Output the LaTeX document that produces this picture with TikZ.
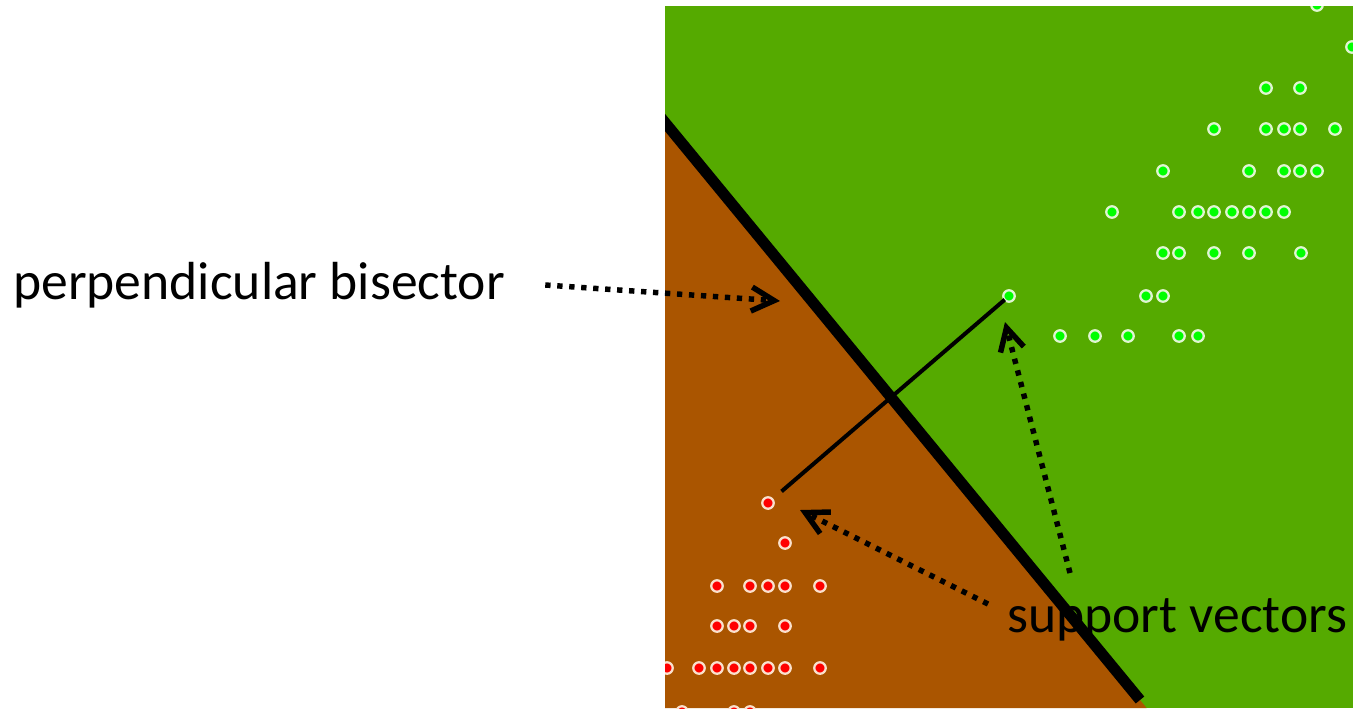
\documentclass[tikz,border=0pt]{standalone}
\usepackage{fontspec}
\setmainfont{Carlito}
\usetikzlibrary{arrows.meta}
\definecolor{regiongreen}{RGB}{85,170,0}
\definecolor{regionbrown}{RGB}{170,85,0}
\definecolor{dotgreen}{RGB}{0,255,0}
\definecolor{dotred}{RGB}{255,0,0}
\definecolor{ringgreen}{RGB}{225,245,210}
\definecolor{ringred}{RGB}{250,225,205}
\tikzset{
  gdot/.style={circle,fill=dotgreen,draw=ringgreen,line width=1.7pt,minimum size=8.6pt,inner sep=0pt},
  rdot/.style={circle,fill=dotred,draw=ringred,line width=1.7pt,minimum size=8.6pt,inner sep=0pt},
  pointer/.style={line width=4.1pt,dash pattern=on 4pt off 5pt,-{Straight Barb[length=17pt,width=18pt]}},
  labeltext/.style={font=\fontsize{40.2}{48}\selectfont,inner sep=0pt,anchor=base west}
}

\begin{document}
\begin{tikzpicture}[x=0.75pt,y=-0.75pt]
\useasboundingbox (0,0) rectangle (1353,708);

\begin{scope}
\clip (665,6) rectangle (1353,708);
\fill[regiongreen] (665,6) rectangle (1353,708);
\fill[regionbrown] (665,122.6) -- (1146.6,708) -- (665,708) -- cycle;
\draw[line width=8.25pt] (650,104.3) -- (1140,700);

\foreach \x/\y in {1317/5,1352/47,1266/88,1300/88,
  1214/129,1266/129,1284/129,1300/129,1335/129,
  1163/171,1249/171,1284/171,1300/171,1317/171,
  1112/212,1179/212,1198/212,1214/212,1232/212,1249/212,1266/212,1284/212,
  1163/253,1179/253,1214/253,1249/253,1301/253,
  1146/296,1163/296,
  1060/336,1095/336,1128/336,1179/336,1198/336}
  \node[gdot] at (\x,\y) {};
\node[gdot] (sv-green) at (1009,296) {};

\foreach \x/\y in {785/543,
  717/586,750/586,768/586,785/586,820/586,
  717/626,734/626,750/626,785/626,
  667/668,699/668,717/668,734/668,750/668,768/668,785/668,820/668,
  682/712,734/712,750/712}
  \node[rdot] at (\x,\y) {};
\node[rdot] (sv-red) at (768,503) {};

\draw[line width=3pt,shorten <=13.4pt,shorten >=4.2pt] (sv-red.center) -- (sv-green.center);
\end{scope}

\node[labeltext] (bisector-label) at (13,299) {perpendicular bisector};
\node[labeltext] (sv-label) at (1007,632) {support vectors};

\coordinate (bis-tip) at (780,301);
\coordinate (red-tip) at (800,510);
\coordinate (green-tip) at (1005,322);

\draw[pointer] ([shift={(40,-14)}]bisector-label.base east) -- (bis-tip);
\draw[pointer] ([shift={(-19,-28)}]sv-label.base west) -- (red-tip);
\draw[pointer] ([shift={(63,-59)}]sv-label.base west) -- (green-tip);
\end{tikzpicture}
\end{document}
